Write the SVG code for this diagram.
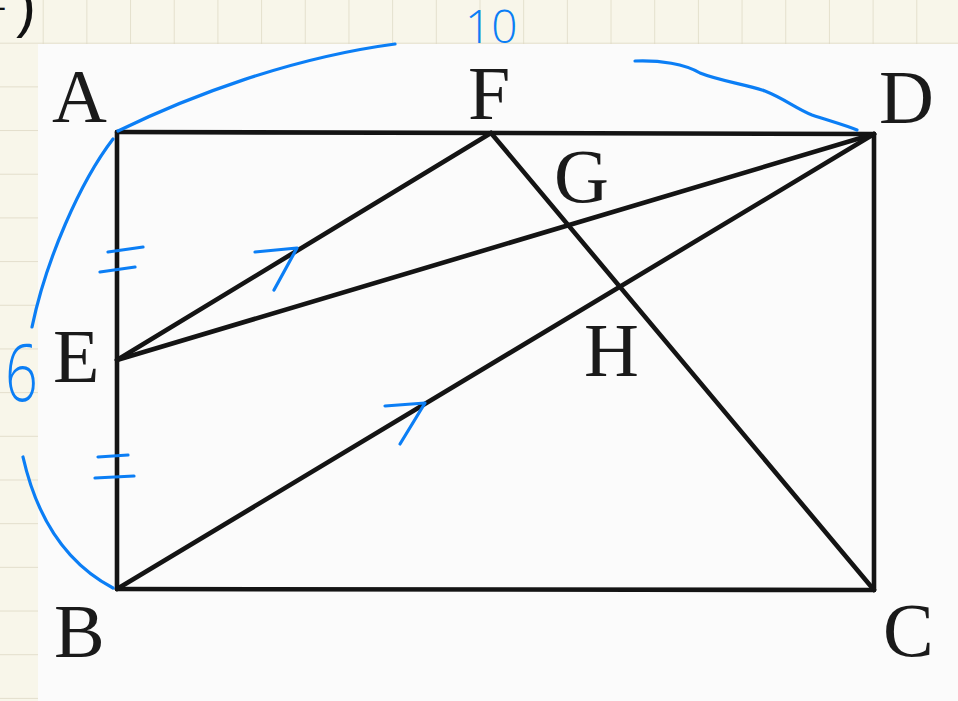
<svg xmlns="http://www.w3.org/2000/svg" width="958" height="701" viewBox="0 0 958 701">
  <defs>
    <pattern id="grid" x="0" y="0" width="43.68" height="43.68" patternUnits="userSpaceOnUse">
      <rect width="43.68" height="43.68" fill="#f8f6ea"/>
      <path d="M43.68 0 V43.68 M0 43.68 H43.68" fill="none" stroke="#dcd7c2" stroke-width="1.4"/>
    </pattern>
    <style>
      .edge { stroke: #141414; stroke-width: 4.6; stroke-linecap: round; fill: none; }
      .lbl { font-family: "Liberation Serif", "Times New Roman", serif; font-size: 76px; fill: #1a1a1a; }
      .ink { stroke: #0b7ef5; stroke-width: 3.2; fill: none; stroke-linecap: round; stroke-linejoin: round; }
      .inktxt { font-family: "Open Sans", "Liberation Sans", sans-serif; font-weight: 300; fill: #0b7ef5; }
      .pen { font-family: "Liberation Sans", "Arial", sans-serif; fill: #111; }
    </style>
  </defs>

  <!-- notebook background -->
  <rect x="0" y="0" width="958" height="701" fill="url(#grid)"/>
  <rect x="38" y="44" width="920" height="657" fill="#fbfbfb"/>

  <!-- black pen marks at top-left -->
  <text class="pen" x="-4" y="17" font-size="30">-</text>
  <text class="pen" x="16" y="26" font-size="60">)</text>

  <!-- connectors -->
  <g id="connectors">
    <line class="edge" x1="117" y1="132" x2="874" y2="134"/>
    <line class="edge" x1="117" y1="132" x2="117" y2="589"/>
    <line class="edge" x1="117" y1="589" x2="874" y2="590"/>
    <line class="edge" x1="874" y1="134" x2="874" y2="590"/>
    <line class="edge" x1="117" y1="360" x2="491" y2="133"/>
    <line class="edge" x1="117" y1="360" x2="874" y2="134"/>
    <line class="edge" x1="117" y1="589" x2="874" y2="134"/>
    <line class="edge" x1="491" y1="133" x2="874" y2="590"/>
  </g>

  <!-- nodes (labels) -->
  <g id="node-A"><text class="lbl" x="52" y="122">A</text></g>
  <g id="node-F"><text class="lbl" x="468" y="119">F</text></g>
  <g id="node-D"><text class="lbl" x="879" y="123">D</text></g>
  <g id="node-G"><text class="lbl" x="554" y="202">G</text></g>
  <g id="node-H"><text class="lbl" x="584" y="376">H</text></g>
  <g id="node-E"><text class="lbl" x="53" y="382">E</text></g>
  <g id="node-B"><text class="lbl" x="54" y="657">B</text></g>
  <g id="node-C"><text class="lbl" x="883" y="656">C</text></g>

  <!-- handwritten blue annotations -->
  <g id="annotations">
    <path class="ink" d="M118,131 C190,96 290,58 395,44"/>
    <path class="ink" d="M635,61 C660,60 685,64 700,73 C720,81 745,84 765,91 C785,99 795,108 812,115 C830,121 845,125 857,130"/>
    <path class="ink" d="M113,139 C80,182 46,260 32,327"/>
    <path class="ink" d="M23,457 C35,510 60,560 113,588"/>
    <path class="ink" d="M108,252 L143,247 M100,272 L135,267"/>
    <path class="ink" d="M98,457 L128,455 M95,478 L134,476"/>
    <path class="ink" d="M255,252 L297,248 L274,290"/>
    <path class="ink" d="M385,406 L425,403 L400,444"/>
    <text class="inktxt" x="465" y="43" font-size="46">10</text>
    <text class="inktxt" transform="translate(5,401) scale(0.72,1)" x="0" y="0" font-size="80">6</text>
  </g>
</svg>
